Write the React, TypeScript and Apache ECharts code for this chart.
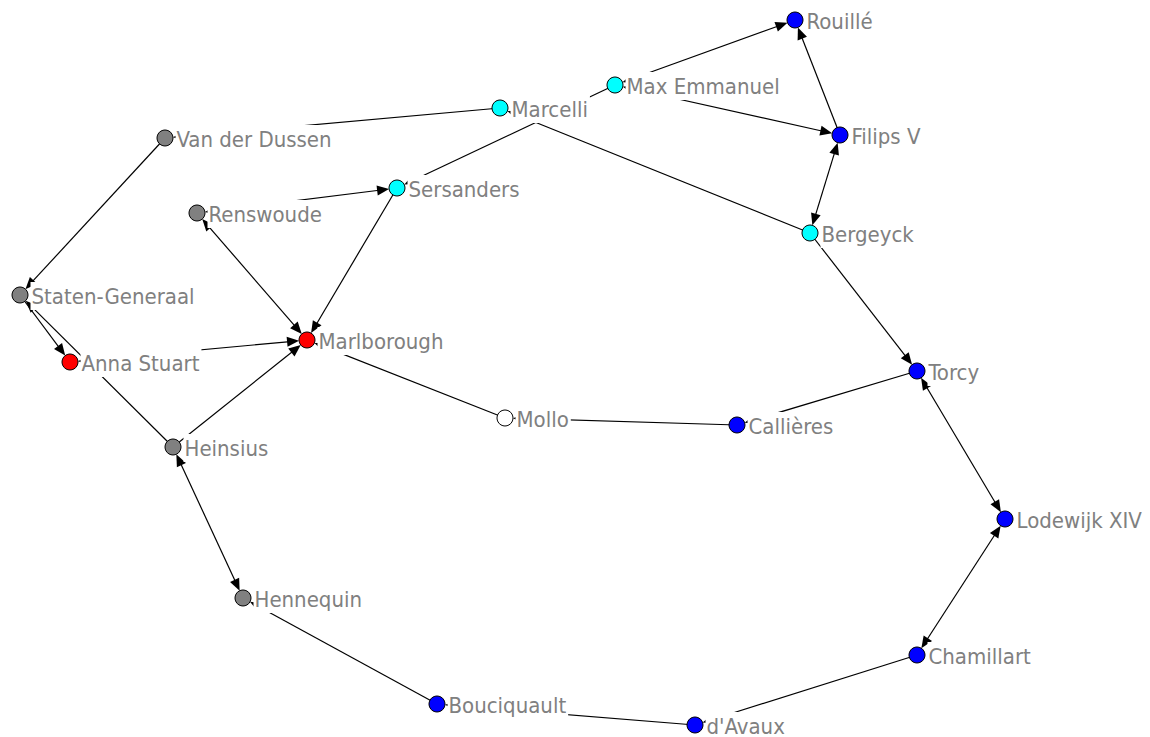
import React, { useEffect, useRef } from "react";
import * as echarts from "echarts";

// Network data: actors and their positions in the drawing (Pajek-style layout coordinates)
const nodeNames = [
  "Rouillé", "Max Emmanuel", "Marcelli", "Filips V", "Van der Dussen",
  "Sersanders", "Renswoude", "Bergeyck", "Staten-Generaal", "Marlborough",
  "Anna Stuart", "Torcy", "Mollo", "Callières", "Heinsius",
  "Lodewijk XIV", "Hennequin", "Chamillart", "Bouciquault", "d'Avaux",
];
const nodeX = [795, 615, 500, 840, 165, 397, 197, 810, 20, 307, 70, 917, 505, 737, 173, 1005, 243, 917, 437, 695];
const nodeY = [20, 85, 108, 135, 138, 188, 213, 233, 295, 340, 362, 371, 418, 425, 447, 519, 598, 655, 704, 725];
const nodeGroup = [
  "Frankrijk", "Zuidelijke Nederlanden", "Zuidelijke Nederlanden", "Frankrijk", "Republiek",
  "Zuidelijke Nederlanden", "Republiek", "Zuidelijke Nederlanden", "Republiek", "Engeland",
  "Engeland", "Frankrijk", "Overig", "Frankrijk", "Republiek",
  "Frankrijk", "Republiek", "Frankrijk", "Frankrijk", "Frankrijk",
];

// Arcs: source -> target; both = arrows at both ends
const linkSource = [
  "Van der Dussen", "Marcelli", "Heinsius", "Staten-Generaal", "Anna Stuart",
  "Heinsius", "Renswoude", "Sersanders", "Renswoude", "Max Emmanuel",
  "Bergeyck", "Max Emmanuel", "Max Emmanuel", "Filips V", "Filips V",
  "Bergeyck", "Torcy", "Callières", "Mollo", "Torcy",
  "Lodewijk XIV", "Chamillart", "d'Avaux", "Bouciquault", "Heinsius",
];
const linkTarget = [
  "Staten-Generaal", "Van der Dussen", "Staten-Generaal", "Anna Stuart", "Marlborough",
  "Marlborough", "Marlborough", "Marlborough", "Sersanders", "Sersanders",
  "Marcelli", "Rouillé", "Filips V", "Rouillé", "Bergeyck",
  "Torcy", "Callières", "Mollo", "Marlborough", "Lodewijk XIV",
  "Chamillart", "d'Avaux", "Bouciquault", "Hennequin", "Hennequin",
];
const linkBoth = [
  false, false, false, false, true,
  false, true, false, true, false,
  false, true, true, false, true,
  false, false, false, false, true,
  true, false, false, false, true,
];

const groupColor: Record<string, string> = {
  "Frankrijk": "#0000FF",
  "Zuidelijke Nederlanden": "#00FFFF",
  "Republiek": "#808080",
  "Engeland": "#FF0000",
  "Overig": "#FFFFFF",
};

const NODE_SIZE = 16;
const ARROW_W = 10;
const ARROW_L = 12;

export default function App() {
  const ref = useRef<HTMLDivElement>(null);
  useEffect(() => {
    if (!ref.current) return;
    const chart = echarts.init(ref.current, null, { renderer: "svg" });
    const graphNodes = nodeNames.map((n, i) => ({ name: n, value: [nodeX[i], nodeY[i]] }));
    const scatterNodes = nodeNames.map((n, i) => ({
      name: n,
      value: [nodeX[i], nodeY[i]],
      itemStyle: { color: groupColor[nodeGroup[i]] },
    }));
    const links = linkSource.map((s, i) => ({
      source: s,
      target: linkTarget[i],
      symbol: [linkBoth[i] ? "triangle" : "none", "triangle"],
      symbolSize: [[ARROW_W, ARROW_L], [ARROW_W, ARROW_L]],
    }));
    chart.setOption({
      animation: false,
      backgroundColor: "#ffffff",
      grid: { left: 0, right: 0, top: 0, bottom: 0 },
      xAxis: { type: "value", min: 0, max: 1150, show: false },
      yAxis: { type: "value", min: 0, max: 737, inverse: true, show: false },
      series: [
        {
          type: "graph",
          coordinateSystem: "cartesian2d",
          z: 2,
          data: graphNodes,
          links,
          // invisible helper nodes: size sets where arrow tips meet the visible circle
          symbolSize: NODE_SIZE + ARROW_L,
          itemStyle: { opacity: 0 },
          label: { show: false },
          edgeSymbolSize: [[ARROW_W, ARROW_L], [ARROW_W, ARROW_L]],
          lineStyle: { color: "#000000", width: 1.2, opacity: 1, curveness: 0 },
          emphasis: { disabled: true },
          silent: true,
        },
        {
          type: "scatter",
          z: 3,
          data: scatterNodes,
          symbol: "circle",
          symbolSize: NODE_SIZE,
          itemStyle: { borderColor: "#000000", borderWidth: 1, opacity: 1 },
          label: {
            show: true,
            position: "right",
            distance: 2,
            formatter: "{b}",
            color: "#808080",
            fontSize: 22,
            fontFamily: "'DejaVu Sans Condensed', 'DejaVu Sans', sans-serif",
            backgroundColor: "#ffffff",
            padding: [3, 2, 3, 1],
            offset: [0, 1],
          },
          emphasis: { disabled: true },
          silent: true,
        },
      ],
    });
    return () => chart.dispose();
  }, []);
  return (
    <div
      ref={ref}
      style={{ position: "absolute", left: 0, top: 0, width: 1150, height: 737 }}
    />
  );
}
